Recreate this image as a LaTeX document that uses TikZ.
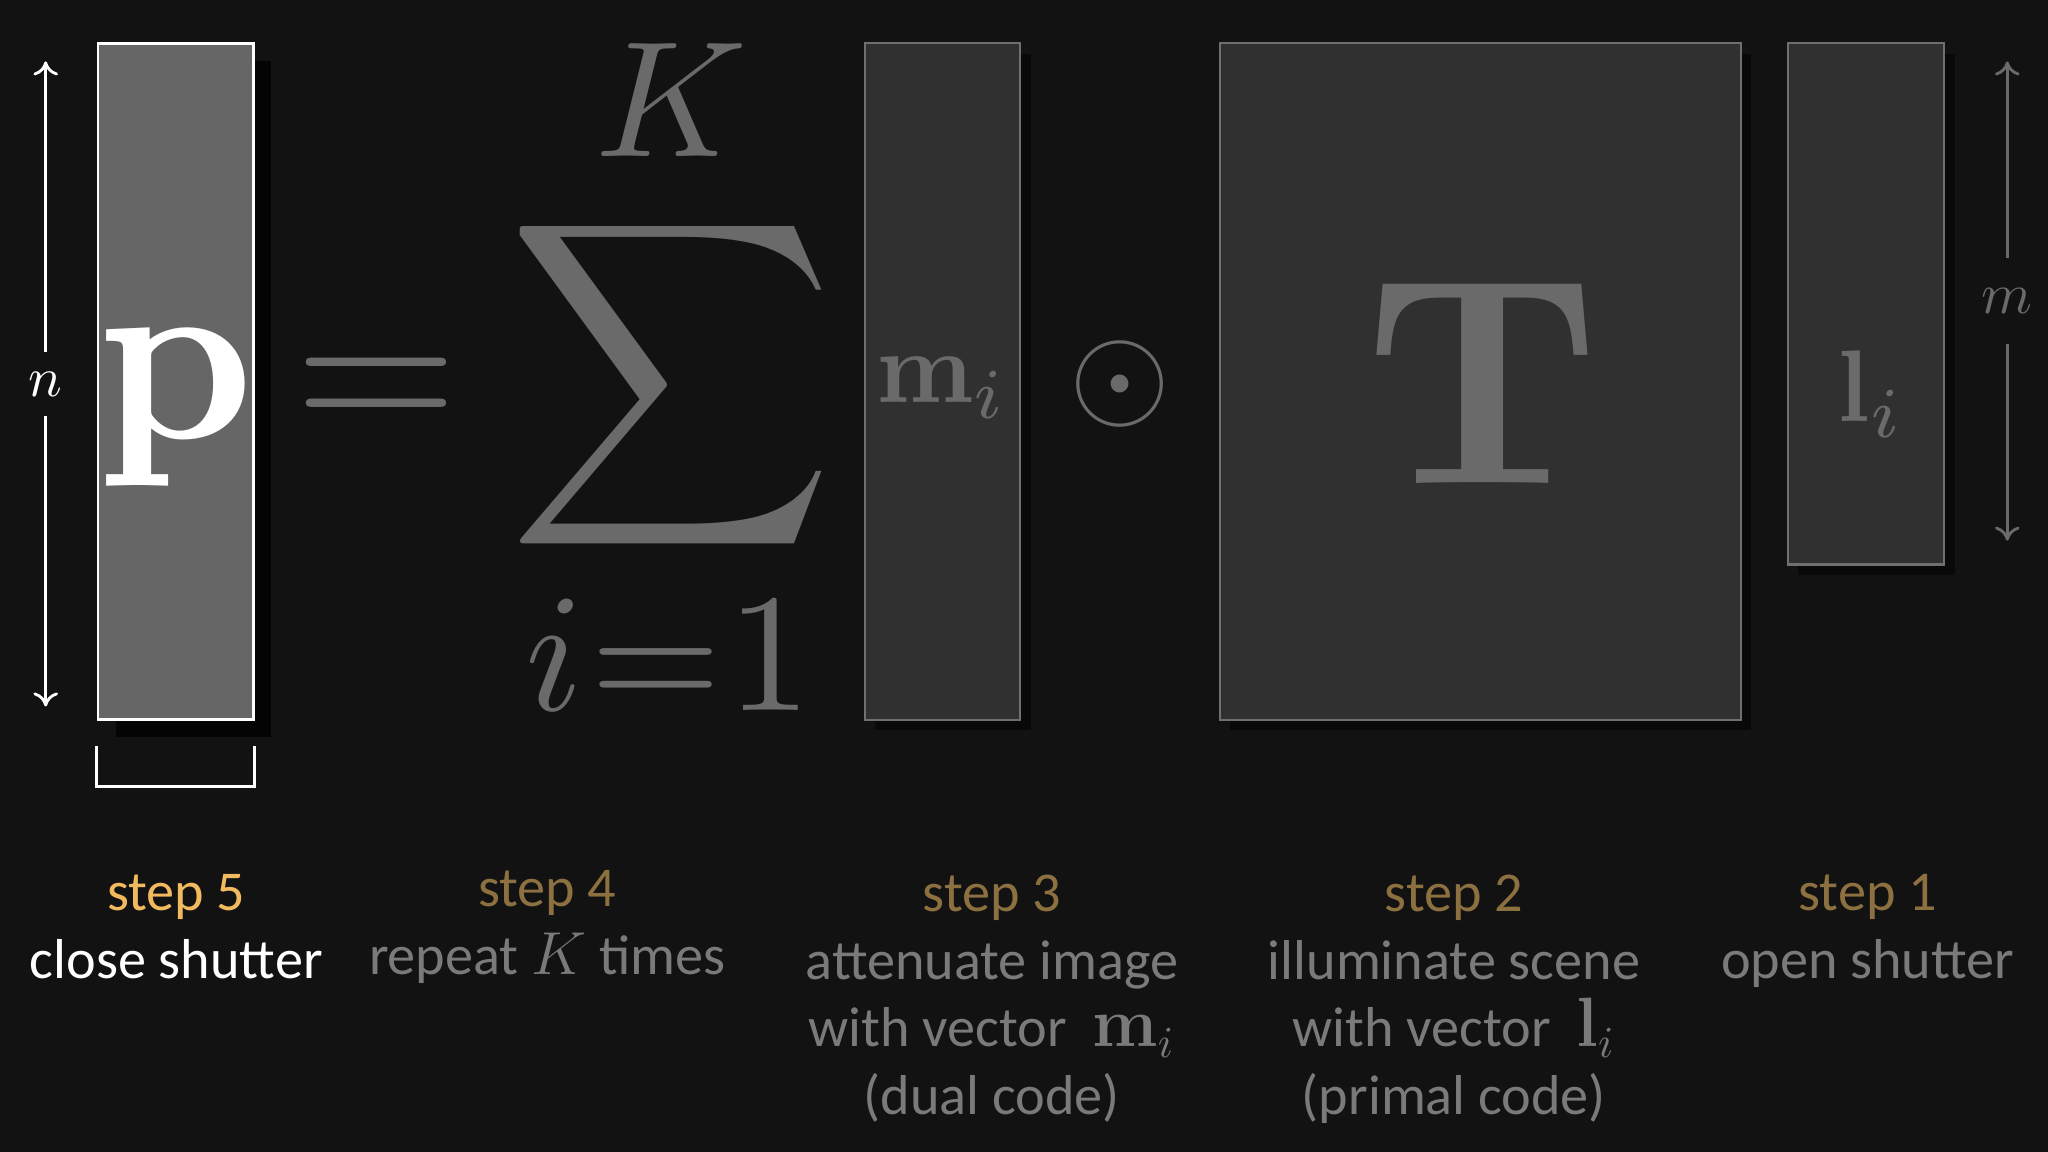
\documentclass[tikz,border=0pt]{standalone}
\usepackage[no-math]{fontspec}
\setmainfont{Carlito}
\usepackage{tikz}
\usetikzlibrary{arrows.meta,shadows}

\definecolor{bgcol}{RGB}{18,18,18}
\definecolor{pfill}{RGB}{102,102,102}
\definecolor{mathgray}{RGB}{106,106,106}
\definecolor{boxfill}{RGB}{48,48,48}
\definecolor{boxline}{RGB}{112,112,112}
\definecolor{goldhi}{RGB}{242,186,94}
\definecolor{golddim}{RGB}{140,112,64}
\definecolor{txtgray}{RGB}{122,122,122}

\begin{document}
\begin{tikzpicture} [align=center,
    vecbox/.style={draw=boxline, line width=0.6pt, fill=boxfill, inner sep=0pt,
      minimum width=1.554cm, drop shadow={shadow xshift=3pt, shadow yshift=-3pt, fill=black, opacity=0.45}},
    symb/.style={anchor=base, text=mathgray, inner sep=0pt},
    caption/.style={anchor=north, text=txtgray, font=\fontsize{16}{19.3}\selectfont, inner sep=0pt},
    >={To[length=4pt,width=7pt]}]
  \fill [bgcol] (0,0) rectangle (20.48,11.52);
  \useasboundingbox (0,0) rectangle (20.48,11.52);
  % the vectors and the matrix
  \path  (1.757,7.706)  node[draw=white, line width=0.8pt, fill=pfill, inner sep=0pt,
                             minimum width=1.554cm, minimum height=6.765cm,
                             drop shadow={shadow xshift=5pt, shadow yshift=-5pt, fill=black, opacity=0.75}] (pbox) {}
         (9.423,7.706)  node[vecbox, minimum height=6.765cm] (mbox) {}
         (14.803,7.706) node[vecbox, minimum width=5.211cm, minimum height=6.765cm] (Tbox) {}
         (18.66,8.48)   node[vecbox, minimum width=1.567cm, minimum height=5.211cm] (lbox) {};
  % the equation
  \path  (1.76,7.13)    node[symb, text=white, scale=7] (p) {$\mathbf{p}$}
         (3.768,7.164)  node[symb, scale=6] (eq) {$=$}
         (6.713,7.10)   node[symb, scale=6.45] (sum) {$\displaystyle\sum$}
         (6.72,9.95)    node[symb, scale=4.7] (K) {$K$}
         (6.69,4.41)    node[symb, scale=4.8] (low) {$i\mkern0.7mu{=}\mkern0.7mu1$}
         (9.42,7.49)    node[symb, scale=2.9] (mi) {$\mathbf{m}_i$}
         (11.205,7.68)  node[symb, anchor=center, scale=3.7] (odot) {$\odot$}
         (14.83,6.68)   node[symb, scale=8.4] (T) {$\mathbf{T}$}
         (18.71,7.30)   node[symb, scale=2.9] (li) {$\mathbf{l}_i$};
  % sizes
  \coordinate (ntop) at (0.457,10.906);
  \coordinate (nbot) at (0.457,4.455);
  \coordinate (mtop) at (20.073,10.906);
  \coordinate (mbot) at (20.073,6.113);
  \draw [<->, white, line width=0.8pt] (ntop) to node[fill=bgcol, text=white, scale=1.6, inner xsep=1pt, inner ysep=3.6pt] (n) {$n$} (nbot);
  \draw [<->, mathgray, line width=0.8pt] (mtop) to node[fill=bgcol, text=mathgray, scale=1.65, inner xsep=1pt, inner ysep=5.2pt] (m) {$m$} (mbot);
  \draw [white, line width=0.8pt] ([yshift=-0.25cm]pbox.south west) -- ++(0,-0.405) -| ([yshift=-0.25cm]pbox.south east);
  % the five steps
  \path  (1.763,2.78)   node[caption, text=white] (s5) {\textcolor{goldhi}{step 5}\\close shutter}
         (5.472,2.82)   node[caption] (s4) {\textcolor{golddim}{step 4}\\repeat $K$ times}
         (9.92,2.78)    node[caption] (s3) {\textcolor{golddim}{step 3}\\attenuate image\\with vector\ \ \scalebox{1.15}{$\mathbf{m}_i$}\\(dual code)}
         (14.54,2.78)   node[caption] (s2) {\textcolor{golddim}{step 2}\\illuminate scene\\with vector\ \ \scalebox{1.15}{$\mathbf{l}_i$}\\(primal code)}
         (18.676,2.78)  node[caption] (s1) {\textcolor{golddim}{step 1}\\open shutter};
\end{tikzpicture}
\end{document}
